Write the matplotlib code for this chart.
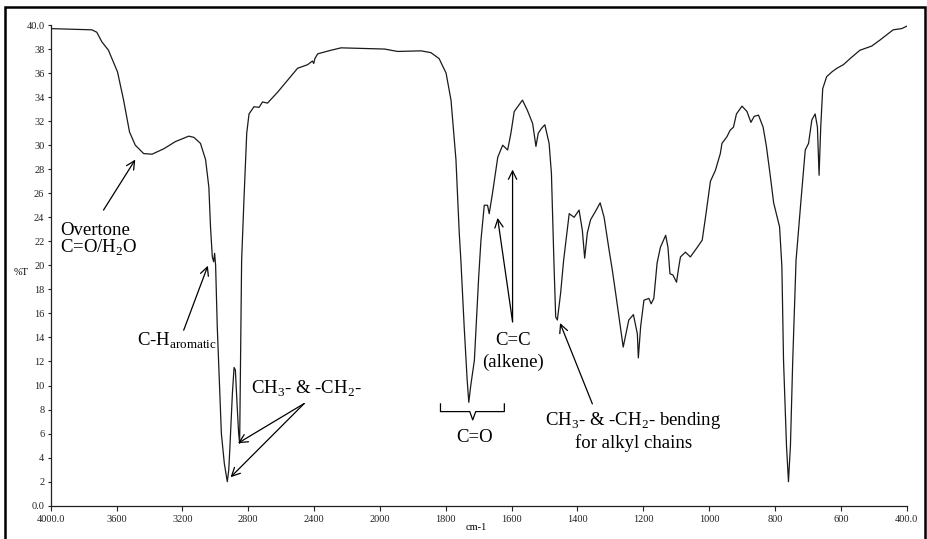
import numpy as np
import matplotlib
matplotlib.use('Agg')
import matplotlib.pyplot as plt
from matplotlib.patches import Rectangle

# FTIR spectrum values (wavenumber in cm-1, %T)
wavenumber = [4000, 3750, 3720, 3689, 3649, 3594, 3557, 3521, 3486, 3435,
              3384, 3313, 3242, 3161, 3130, 3090, 3059, 3039, 3029, 3018,
              3010, 3004, 2998, 2988, 2963, 2945, 2927, 2918, 2911, 2896,
              2886, 2878, 2866, 2858, 2852, 2846, 2840, 2826, 2809, 2795,
              2765, 2734, 2713, 2683, 2622, 2561, 2500, 2439, 2410, 2402,
              2395, 2378, 2297, 2236, 2094, 1986, 1946, 1875, 1845, 1820,
              1799, 1784, 1769, 1759, 1754, 1744, 1735, 1730, 1724, 1713,
              1700, 1693, 1683, 1673, 1668, 1658, 1642, 1627, 1612, 1602,
              1592, 1567, 1552, 1536, 1526, 1519, 1509, 1499, 1486, 1479,
              1471, 1466, 1461, 1451, 1442, 1425, 1410, 1395, 1385, 1378,
              1370, 1360, 1345, 1331, 1319, 1304, 1294, 1284, 1261, 1244,
              1230, 1218, 1215, 1208, 1198, 1183, 1176, 1168, 1158, 1148,
              1132, 1125, 1119, 1110, 1099, 1092, 1087, 1072, 1057, 1036,
              1021, 1011, 996, 981, 966, 961, 946, 936, 926, 917,
              900, 885, 873, 863, 850, 836, 826, 814, 804, 786,
              779, 774, 765, 759, 753, 746, 736, 721, 708, 698,
              688, 678, 671, 666, 661, 655, 643, 627, 612, 592,
              572, 542, 506, 481, 441, 415, 400]
transmittance = [39.7, 39.6, 39.4, 38.6, 37.9, 36.1, 33.75, 31.1, 30.0, 29.3,
                 29.25, 29.7, 30.3, 30.75, 30.65, 30.15, 28.8, 26.5, 23.2, 20.7,
                 20.3, 21.0, 20.0, 14.9, 6.0, 3.5, 2.0, 3.0, 4.9, 9.35,
                 11.5, 11.3, 8.0, 6.0, 5.2, 13.2, 20.4, 25.4, 31.0, 32.6,
                 33.2, 33.15, 33.6, 33.5, 34.4, 35.4, 36.4, 36.7, 37.0, 36.8,
                 37.2, 37.6, 37.9, 38.1, 38.05, 38.0, 37.8, 37.85, 37.7, 37.2,
                 36.0, 33.75, 28.8, 22.7, 20.4, 14.9, 10.5, 8.6, 10.0, 12.1,
                 19.0, 22.1, 25.0, 25.0, 24.3, 26.0, 29.0, 30.0, 29.6, 31.0,
                 32.8, 33.75, 32.9, 31.8, 29.9, 31.0, 31.4, 31.7, 30.15, 27.65,
                 19.9, 15.7, 15.45, 17.7, 20.4, 24.3, 24.0, 24.6, 22.9, 20.6,
                 22.7, 23.8, 24.5, 25.2, 24.0, 21.3, 19.6, 17.7, 13.2, 15.45,
                 15.9, 14.3, 12.3, 14.9, 17.1, 17.25, 16.8, 17.25, 20.2, 21.5,
                 22.5, 21.5, 19.3, 19.2, 18.6, 19.9, 20.7, 21.1, 20.7, 21.5,
                 22.1, 24.0, 27.0, 27.9, 29.3, 30.15, 30.7, 31.25, 31.5, 32.6,
                 33.25, 32.8, 31.9, 32.4, 32.5, 31.5, 29.9, 27.4, 25.2, 23.2,
                 19.9, 12.1, 5.0, 2.0, 5.0, 12.1, 20.4, 25.4, 29.6, 30.15,
                 32.1, 32.6, 31.5, 27.5, 31.5, 34.7, 35.7, 36.1, 36.4, 36.7,
                 37.2, 37.9, 38.25, 38.75, 39.6, 39.7, 39.9]

x_ticks = [4000, 3600, 3200, 2800, 2400, 2000, 1800, 1600, 1400, 1200, 1000, 800, 600, 400]
x_labels = ['4000.0', '3600', '3200', '2800', '2400', '2000', '1800', '1600',
            '1400', '1200', '1000', '800', '600', '400.0']
y_ticks = list(range(0, 41, 2))
y_labels = ['0.0'] + [str(v) for v in y_ticks[1:-1]] + ['40.0']


# x axis is compressed by a factor 2 above 2000 cm-1
def fwd(x):
    x = np.asarray(x, dtype=float)
    return np.where(x > 2000, 2000 + (x - 2000) / 2.0, x)


def inv(u):
    u = np.asarray(u, dtype=float)
    return np.where(u > 2000, 2000 + (u - 2000) * 2.0, u)


plt.rcParams['font.family'] = ['Liberation Serif', 'DejaVu Serif']
plt.rcParams['mathtext.fontset'] = 'custom'
plt.rcParams['mathtext.rm'] = 'Liberation Serif'

fig = plt.figure(figsize=(9.28, 5.39), dpi=100)
ax = fig.add_axes([0.0546, 0.0618, 0.9224, 0.8918])

ax.plot(wavenumber, transmittance, color='#1a1a1a', lw=0.9)

ax.set_xscale('function', functions=(fwd, inv))
ax.set_xlim(4000, 400)
ax.set_ylim(0, 40)
ax.set_xticks(x_ticks)
ax.set_xticklabels(x_labels)
ax.set_yticks(y_ticks)
ax.set_yticklabels(y_labels)
ax.minorticks_off()
ax.tick_params(axis='both', direction='out', length=2.5, width=0.8,
               labelsize=7.5, pad=2, colors='#222222')
ax.tick_params(axis='x', length=3.5, pad=3)
for s in ['top', 'right']:
    ax.spines[s].set_visible(False)
for s in ['left', 'bottom']:
    ax.spines[s].set_linewidth(0.9)
    ax.spines[s].set_color('#222222')

fig.text(21.5 / 928, 1 - 273 / 539, '%T', ha='center', va='center', fontsize=7.5)
fig.text(476 / 928, 1 - 528 / 539, 'cm-1', ha='center', va='center', fontsize=7.5)

# frame round the whole picture
fig.patches.append(Rectangle((5 / 928, -0.02), 920 / 928, 1.0065, transform=fig.transFigure,
                             fill=False, lw=1.8, edgecolor='black'))

# annotations
fs = 13.5
ax.text(3943, 22.5, 'Overtone', fontsize=fs, ha='left', va='baseline')
ax.text(3943, 21.05, 'C=O/H$_2$O', fontsize=fs, ha='left', va='baseline')
ax.text(3476, 13.3, 'C-H$_{\\mathrm{aromatic}}$', fontsize=fs, ha='left', va='baseline')
ax.text(2785, 9.3, 'CH$_3$- & -CH$_2$-', fontsize=fs, ha='left', va='baseline')
ax.text(1712, 5.3, 'C=O', fontsize=fs, ha='center', va='baseline')
ax.text(1597, 13.37, 'C=C', fontsize=fs, ha='center', va='baseline')
ax.text(1595, 11.56, '(alkene)', fontsize=fs, ha='center', va='baseline')
ax.text(1231, 6.71, 'CH$_3$- & -CH$_2$- bending', fontsize=fs, ha='center', va='baseline')
ax.text(1229, 4.78, 'for alkyl chains', fontsize=fs, ha='center', va='baseline')

arrows = [((3679, 24.6), (3486, 28.8)),
          ((3192, 14.6), (3045, 19.97)),
          ((2460, 8.5), (2862, 5.2)),
          ((2460, 8.5), (2907, 2.37)),
          ((1597, 15.3), (1597, 27.97)),
          ((1597, 15.3), (1642.5, 23.95)),
          ((1354.6, 8.47), (1452.8, 15.2))]
for tail, tip in arrows:
    ax.annotate('', xy=tip, xytext=tail,
                arrowprops=dict(arrowstyle='->,head_length=0.5,head_width=0.25',
                                lw=0.9, color='black', shrinkA=0, shrinkB=0,
                                mutation_scale=12))

# brace under the C=O band
brace_x = [1816, 1816, 1727, 1718, 1709, 1622, 1622]
brace_y = [8.47, 7.83, 7.83, 7.14, 7.83, 7.83, 8.47]
ax.plot(brace_x, brace_y, color='black', lw=0.9)

fig.savefig('out.png', dpi=100)
